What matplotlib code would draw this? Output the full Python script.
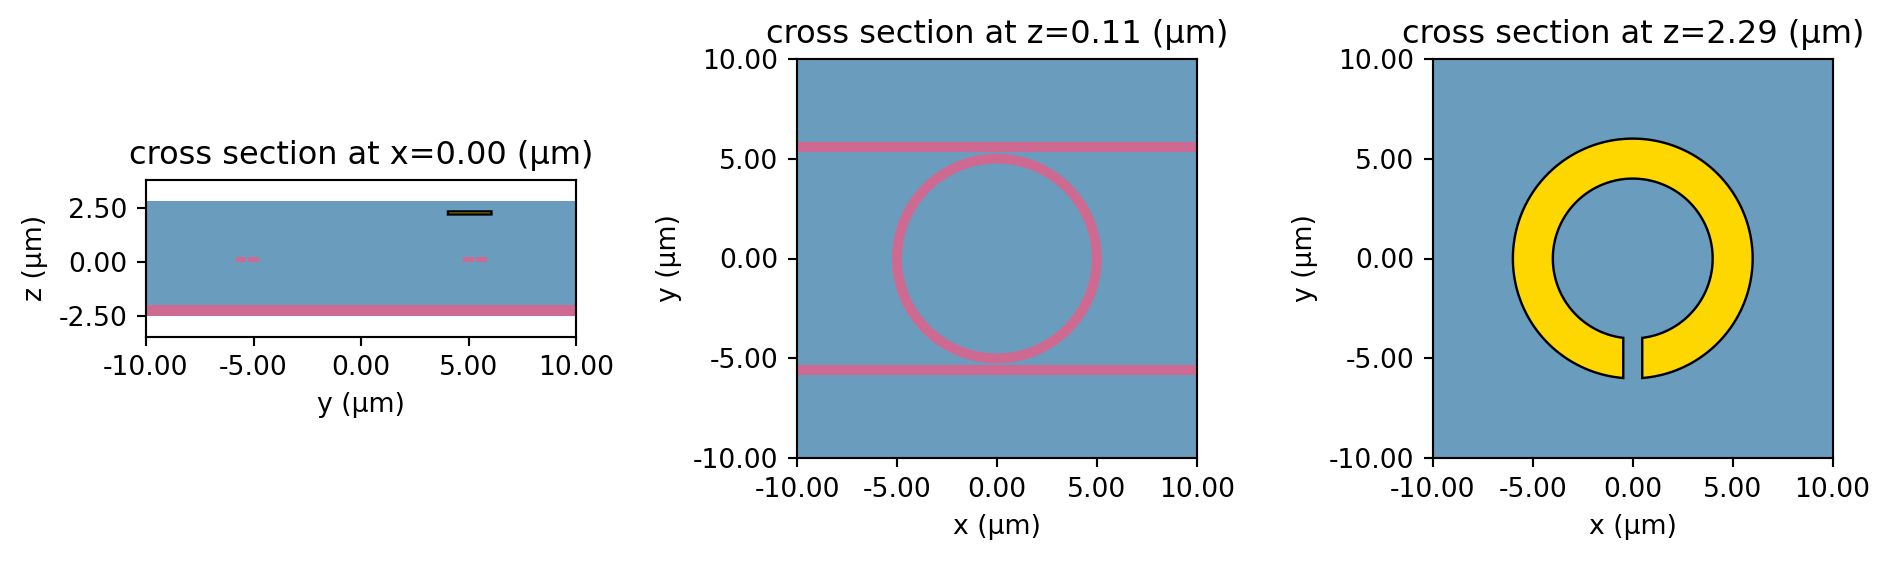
import numpy as np
import matplotlib
matplotlib.use('Agg')
import matplotlib.pyplot as plt
from matplotlib.patches import Rectangle, Polygon, Annulus

# all lengths in um
bg_color = '#6a9dbd'
wg_color = '#ce6a92'
gold_color = '#ffd700'

ticks = [-10.0, -5.0, 0.0, 5.0, 10.0]
z_ticks = [-2.5, 0.0, 2.5]
z_lim = [-3.47, 3.81]
cladding_top = 2.84

# waveguide
wg_z = [0.0, 0.22]
bus_y = 5.58
bus_w = 0.5
ring_r = 5.0
ring_w = 0.5

# bottom layer in the x cross section
mirror_z = [-2.5, -2.02]

# gold split ring
srr_outer = 6.0
srr_inner = 4.0
srr_gap = 0.475
srr_z = [2.21, 2.35]
srr_y = [4.03, 6.05]


def srr_polygon():
    a_out = np.arcsin(srr_gap / srr_outer)
    a_in = np.arcsin(srr_gap / srr_inner)
    t_out = np.linspace(-np.pi/2 + a_out, 1.5*np.pi - a_out, 300)
    t_in = np.linspace(1.5*np.pi - a_in, -np.pi/2 + a_in, 300)
    xo = srr_outer*np.cos(t_out)
    yo = srr_outer*np.sin(t_out)
    xi = srr_inner*np.cos(t_in)
    yi = srr_inner*np.sin(t_in)
    return np.column_stack([np.r_[xo, xi], np.r_[yo, yi]])


def fmt_axes(ax, xlabel, ylabel, title, yticks):
    ax.set_xlim(ticks[0], ticks[-1])
    ax.set_xticks(ticks)
    ax.set_yticks(yticks)
    ax.set_xticklabels([f'{t:.2f}' for t in ticks])
    ax.set_yticklabels([f'{t:.2f}' for t in yticks])
    ax.set_xlabel(xlabel)
    ax.set_ylabel(ylabel)
    ax.set_title(title)
    ax.set_aspect('equal')


W, H = 1890, 561
fig = plt.figure(figsize=(W/192, H/192), dpi=192)
ax1 = fig.add_axes([145.7/W, 1-336.7/H, 431/W, 156.7/H])
ax2 = fig.add_axes([796.7/W, 1-458.3/H, 400.3/W, 399.6/H])
ax3 = fig.add_axes([1432.5/W, 1-458.3/H, 400.5/W, 399.6/H])

# x = 0 cross section
ax1.add_patch(Rectangle((ticks[0], mirror_z[0]), 20, cladding_top - mirror_z[0], fc=bg_color, ec='none'))
ax1.add_patch(Rectangle((ticks[0], mirror_z[0]), 20, mirror_z[1]-mirror_z[0], fc=wg_color, ec='none'))
for s in [-1, 1]:
    ax1.add_patch(Rectangle((s*bus_y - bus_w/2, wg_z[0]), bus_w, wg_z[1]-wg_z[0], fc=wg_color, ec='none'))
    ax1.add_patch(Rectangle((s*ring_r - ring_w/2, wg_z[0]), ring_w, wg_z[1]-wg_z[0], fc=wg_color, ec='none'))
ax1.add_patch(Rectangle((srr_y[0], srr_z[0]), srr_y[1]-srr_y[0], srr_z[1]-srr_z[0], fc=gold_color, ec='k', lw=0.9, snap=False))
ax1.set_ylim(z_lim)
fmt_axes(ax1, 'y (µm)', 'z (µm)', 'cross section at x=0.00 (µm)', z_ticks)

# z = 0.11 cross section
ax2.set_facecolor(bg_color)
for s in [-1, 1]:
    ax2.add_patch(Rectangle((ticks[0], s*bus_y - bus_w/2), 20, bus_w, fc=wg_color, ec='none'))
ax2.add_patch(Annulus((0, 0), ring_r + ring_w/2, ring_w, fc=wg_color, ec='none'))
ax2.set_ylim(ticks[0], ticks[-1])
fmt_axes(ax2, 'x (µm)', 'y (µm)', 'cross section at z=0.11 (µm)', ticks)

# z = 2.29 cross section
ax3.set_facecolor(bg_color)
ax3.add_patch(Polygon(srr_polygon(), closed=True, fc=gold_color, ec='k', lw=0.9))
ax3.set_ylim(ticks[0], ticks[-1])
fmt_axes(ax3, 'x (µm)', 'y (µm)', 'cross section at z=2.29 (µm)', ticks)

fig.savefig('out.png', dpi=192)
